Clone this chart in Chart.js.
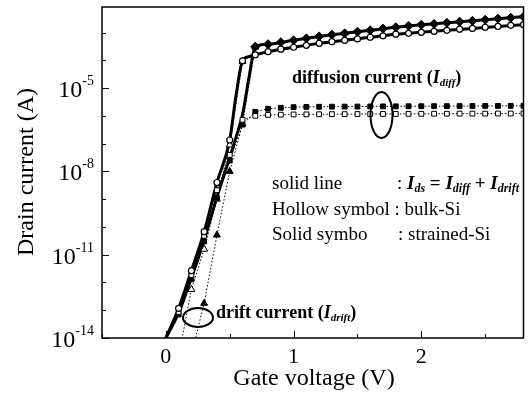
<!DOCTYPE html>
<html>
<head>
<meta charset="utf-8">
<script src="https://cdn.jsdelivr.net/npm/chart.js@4.4.0/dist/chart.umd.min.js"></script>
<style>
  html, body { margin: 0; padding: 0; background: #fff; }
  #wrap { position: relative; width: 529px; height: 393px; }
</style>
</head>
<body>
<div id="wrap"><canvas id="ivChart"></canvas></div>
<script>
// gate voltages where the symbols sit (V)
const gateV = [0.1, 0.2, 0.3, 0.4, 0.5, 0.6, 0.7, 0.8, 0.9, 1.0, 1.1, 1.2, 1.3, 1.4,
               1.5, 1.6, 1.7, 1.8, 1.9, 2.0, 2.1, 2.2, 2.3, 2.4, 2.5, 2.6, 2.7, 2.8];
const satV = gateV.slice(6);

// symbols (A)
const bulkIds = [1.17e-13, 2.66e-12, 6.76e-11, 3.98e-9, 1.35e-7, 9.55e-5, 1.58e-4, 2.04e-4,
                 2.51e-4, 2.95e-4, 3.47e-4, 4.07e-4, 4.68e-4, 5.25e-4, 5.89e-4, 6.76e-4,
                 7.59e-4, 8.71e-4, 9.33e-4, 1.02e-3, 1.10e-3, 1.20e-3, 1.32e-3, 1.41e-3,
                 1.55e-3, 1.66e-3, 1.82e-3, 1.91e-3];
const strainedIds = [3.09e-4, 3.80e-4, 4.47e-4, 5.25e-4, 6.17e-4, 7.24e-4, 8.32e-4, 9.33e-4,
                     1.07e-3, 1.20e-3, 1.38e-3, 1.55e-3, 1.74e-3, 1.91e-3, 2.04e-3, 2.24e-3,
                     2.45e-3, 2.63e-3, 2.88e-3, 3.16e-3, 3.39e-3, 3.72e-3];
const diffBulk = [8.7e-14, 1.86e-12, 4.8e-11, 2.1e-9, 3.9e-8, 7.2e-7, 1.0e-6, 1.08e-6,
                  1.1e-6, 1.12e-6, 1.13e-6, 1.14e-6, 1.15e-6, 1.15e-6, 1.16e-6, 1.16e-6,
                  1.17e-6, 1.17e-6, 1.18e-6, 1.18e-6, 1.19e-6, 1.19e-6, 1.2e-6, 1.2e-6,
                  1.2e-6, 1.21e-6, 1.21e-6, 1.22e-6];
const diffStrained = [7.0e-14, 1.3e-12, 3.0e-11, 1.11e-9, 2.45e-8, 4.8e-7, 1.4e-6, 1.8e-6,
                      1.95e-6, 2.05e-6, 2.1e-6, 2.12e-6, 2.14e-6, 2.15e-6, 2.16e-6, 2.18e-6,
                      2.19e-6, 2.2e-6, 2.21e-6, 2.22e-6, 2.23e-6, 2.24e-6, 2.25e-6, 2.26e-6,
                      2.27e-6, 2.28e-6, 2.29e-6, 2.3e-6];
const driftBulkV = [0.1, 0.2, 0.3, 0.4, 0.5, 0.6];
const driftBulk = [2.2e-15, 5.6e-13, 1.58e-11, 1.0e-9, 9.0e-8, 9.0e-5];
const driftStrainedV = [0.2, 0.3, 0.4, 0.5, 0.6, 0.7];
const driftStrained = [2.5e-15, 1.78e-13, 5.1e-11, 1.0e-8, 5.1e-7, 3.0e-4];

// solid model lines Ids = Idiff + Idrift
const lineV = [0, 0.1, 0.2, 0.3, 0.4, 0.5, 0.55, 0.6, 0.65, 0.7, 0.8, 1.0, 1.2, 1.4, 1.6,
               1.8, 2.0, 2.2, 2.4, 2.6, 2.8];
const bulkLine = [1e-14, 1.17e-13, 2.66e-12, 6.76e-11, 3.98e-9, 1.35e-7, 5.75e-6, 9.55e-5,
                  1.35e-4, 1.58e-4, 2.04e-4, 2.95e-4, 4.07e-4, 5.25e-4, 6.76e-4, 8.71e-4,
                  1.02e-3, 1.20e-3, 1.41e-3, 1.66e-3, 1.91e-3];
const strainedLine = [1e-14, 7.94e-14, 1.45e-12, 3.39e-11, 1.20e-9, 3.09e-8, 1.74e-7, 1.1e-6,
                      2.3e-5, 3.09e-4, 3.80e-4, 5.25e-4, 7.24e-4, 9.33e-4, 1.20e-3, 1.55e-3,
                      1.91e-3, 2.24e-3, 2.63e-3, 3.16e-3, 3.72e-3];

// axis ticks
const xTicks = [-0.5, 0, 0.5, 1, 1.5, 2, 2.5];
const xTickLabels = ['0', '1', '2'];
const yDecades = [-14, -13, -12, -11, -10, -9, -8, -7, -6, -5, -4, -3];
const yTickLabels = [-14, -11, -8, -5];

const serif = '"Liberation Serif", "Times New Roman", serif';

function pts(xs, ys) {
  return xs.map((v, i) => ({ x: v, y: ys[i] }));
}

function drawRuns(ctx, x, y, runs) {
  runs.forEach(r => {
    ctx.font = r.font;
    ctx.fillText(r.t, x, y + (r.dy || 0));
    x += ctx.measureText(r.t).width;
  });
  return x;
}

const overlay = {
  id: 'overlay',
  afterDatasetsDraw(chart) {
    const { ctx, chartArea: a } = chart;
    const xs = chart.scales.x;
    const ys = chart.scales.y;
    ctx.save();
    ctx.strokeStyle = '#000';
    ctx.fillStyle = '#000';

    // frame
    ctx.lineWidth = 1.5;
    ctx.strokeRect(a.left, a.top, a.right - a.left, a.bottom - a.top);

    // inward ticks
    ctx.lineWidth = 1;
    ctx.beginPath();
    xTicks.forEach(v => {
      const px = Math.round(xs.getPixelForValue(v)) + 0.5;
      const len = Number.isInteger(v) ? 7 : 4;
      ctx.moveTo(px, a.bottom);
      ctx.lineTo(px, a.bottom - len);
    });
    yDecades.forEach(e => {
      const py = Math.round(ys.getPixelForValue(Math.pow(10, e))) + 0.5;
      const len = yTickLabels.includes(e) ? 7 : 4;
      ctx.moveTo(a.left, py);
      ctx.lineTo(a.left + len, py);
    });
    ctx.stroke();

    // tick labels
    ctx.textBaseline = 'alphabetic';
    ctx.textAlign = 'center';
    ctx.font = '22px ' + serif;
    xTickLabels.forEach(t => {
      ctx.fillText(t, xs.getPixelForValue(Number(t)), 363);
    });
    ctx.textAlign = 'left';
    yTickLabels.forEach(e => {
      const py = ys.getPixelForValue(Math.pow(10, e));
      const base = '10', sup = String(e);
      ctx.font = '24px ' + serif;
      const wb = ctx.measureText(base).width;
      ctx.font = '14px ' + serif;
      const ws = ctx.measureText(sup).width;
      drawRuns(ctx, 94 - wb - ws, py + 9, [
        { t: base, font: '24px ' + serif },
        { t: sup, font: '14px ' + serif, dy: -12 }
      ]);
    });

    // axis titles
    ctx.font = '24px ' + serif;
    ctx.textAlign = 'center';
    ctx.fillText('Gate voltage (V)', 314, 385);
    ctx.save();
    ctx.translate(33, 172);
    ctx.rotate(-Math.PI / 2);
    ctx.fillText('Drain current (A)', 0, 0);
    ctx.restore();

    // annotations
    ctx.textAlign = 'left';
    const b = 'bold 18px ' + serif;
    const bi = 'italic bold 18px ' + serif;
    const bis = 'italic bold 11px ' + serif;
    drawRuns(ctx, 292, 83, [
      { t: 'diffusion current (', font: b },
      { t: 'I', font: bi },
      { t: 'diff', font: bis, dy: 3 },
      { t: ')', font: b }
    ]);
    drawRuns(ctx, 216, 318, [
      { t: 'drift current (', font: b },
      { t: 'I', font: bi },
      { t: 'drift', font: bis, dy: 3 },
      { t: ')', font: b }
    ]);

    const r = '19px ' + serif;
    ctx.font = r;
    ctx.fillText('solid line', 272, 189);
    ctx.fillText('Hollow symbol : bulk-Si', 272, 214.5);
    ctx.fillText('Solid symbo', 272, 240);
    ctx.fillText(': strained-Si', 398, 240);
    const bi2 = 'italic bold 19px ' + serif;
    const bs2 = 'italic bold 12px ' + serif;
    drawRuns(ctx, 397, 189, [
      { t: ': ', font: r },
      { t: 'I', font: bi2 },
      { t: 'ds', font: bs2, dy: 3 },
      { t: ' = ', font: 'bold 19px ' + serif },
      { t: 'I', font: bi2 },
      { t: 'diff', font: bs2, dy: 3 },
      { t: ' + ', font: 'bold 19px ' + serif },
      { t: 'I', font: bi2 },
      { t: 'drift', font: bs2, dy: 3 }
    ]);

    // ellipses
    ctx.lineWidth = 2;
    ctx.beginPath();
    ctx.ellipse(381.5, 115, 11, 23, 0, 0, Math.PI * 2);
    ctx.stroke();
    ctx.beginPath();
    ctx.ellipse(198, 317.5, 15, 9.5, 0, 0, Math.PI * 2);
    ctx.stroke();

    ctx.restore();
  }
};

const dotted = { borderColor: '#000', borderWidth: 1, borderDash: [1.5, 2], tension: 0,
                 pointBorderColor: '#000', pointBorderWidth: 1, order: 1 };

new Chart(document.getElementById('ivChart'), {
  type: 'line',
  data: {
    datasets: [
      { label: 'bulk Ids symbols', data: pts(gateV, bulkIds), showLine: false,
        pointStyle: 'circle', pointRadius: 3, pointBackgroundColor: '#fff',
        pointBorderColor: '#000', pointBorderWidth: 1.2, order: 0 },
      { label: 'strained Ids symbols', data: pts(satV, strainedIds), showLine: false,
        pointStyle: 'rectRot', pointRadius: 4.5, pointBackgroundColor: '#000',
        pointBorderColor: '#000', pointBorderWidth: 1, order: 0 },
      { ...dotted, label: 'bulk Idiff', data: pts(gateV, diffBulk),
        pointStyle: 'rect', pointRadius: 3.4, pointBackgroundColor: '#fff' },
      { ...dotted, label: 'strained Idiff', data: pts(gateV, diffStrained),
        pointStyle: 'rect', pointRadius: 3.4, pointBackgroundColor: '#000' },
      { ...dotted, label: 'bulk Idrift', data: pts(driftBulkV, driftBulk),
        pointStyle: 'triangle', pointRadius: 4, pointBackgroundColor: '#fff' },
      { ...dotted, label: 'strained Idrift', data: pts(driftStrainedV, driftStrained),
        pointStyle: 'triangle', pointRadius: 4, pointBackgroundColor: '#000' },
      { label: 'bulk Ids model', data: pts(lineV, bulkLine), borderColor: '#000',
        borderWidth: 3, pointRadius: 0, cubicInterpolationMode: 'monotone', order: 2 },
      { label: 'strained Ids model', data: pts(lineV, strainedLine), borderColor: '#000',
        borderWidth: 3, pointRadius: 0, cubicInterpolationMode: 'monotone', order: 2 }
    ]
  },
  options: {
    responsive: true,
    maintainAspectRatio: false,
    animation: false,
    events: [],
    layout: { padding: { left: 102, right: 1, top: 7, bottom: 55 } },
    plugins: { legend: { display: false }, tooltip: { enabled: false } },
    scales: {
      x: { type: 'linear', min: -0.5, max: 2.8, display: false },
      y: { type: 'logarithmic', min: 1e-14, max: 8.3e-3, display: false }
    }
  },
  plugins: [overlay]
});
</script>
</body>
</html>
